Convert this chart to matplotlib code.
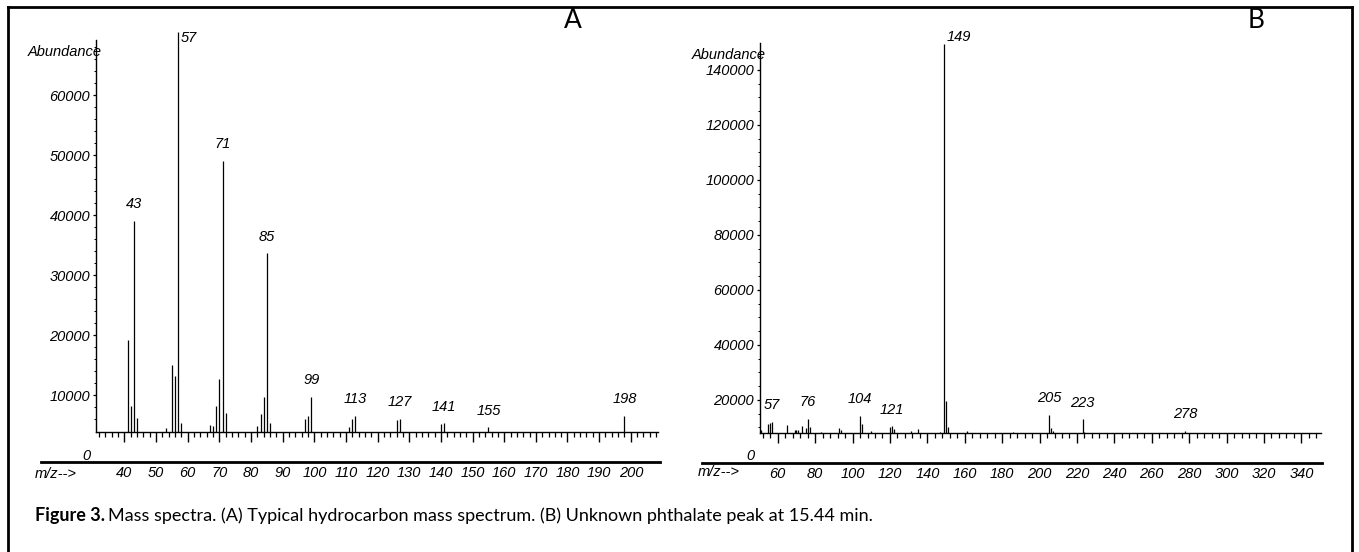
import matplotlib
matplotlib.use("Agg")
import matplotlib.pyplot as plt
from matplotlib.lines import Line2D
from matplotlib.ticker import FixedLocator

# ---- data ----
# (A) hydrocarbon spectrum: m/z and abundance of each line
a_mz = [41, 42, 43, 44, 53, 55, 56, 57, 58, 67, 68, 69, 70, 71, 72,
        82, 83, 84, 85, 86, 97, 98, 99, 111, 112, 113, 126, 127,
        140, 141, 155, 198]
a_abund = [19200, 8200, 39000, 6200, 4500, 15000, 13200, 70500, 5400,
           5000, 4800, 8200, 12700, 49000, 7000, 4800, 6800, 9700, 33600,
           5300, 6000, 6500, 9700, 4600, 6000, 6500, 5800, 6000, 5100,
           5300, 4600, 6500]
a_labels = [43, 57, 71, 85, 99, 113, 127, 141, 155, 198]
a_yticks = [0, 10000, 20000, 30000, 40000, 50000, 60000]
a_xticks = list(range(40, 201, 10))

# (B) unknown phthalate peak
b_mz = [51, 55, 56, 57, 65, 69, 70, 71, 73, 75, 76, 77, 83, 93, 94,
        104, 105, 110, 120, 121, 122, 131, 135, 147, 149, 150, 151,
        161, 186, 205, 206, 207, 223, 224, 278]
b_abund = [9000, 11300, 11700, 12100, 10900, 9100, 9100, 9100, 10500,
           9700, 13100, 10000, 8500, 9700, 9100, 14300, 11300, 8800,
           10000, 10400, 9600, 8600, 9300, 8500, 149500, 19700, 10300,
           8700, 8500, 14500, 9700, 8700, 13000, 8500, 8800]
b_labels = [57, 76, 104, 121, 149, 205, 223, 278]
b_yticks = [0, 20000, 40000, 60000, 80000, 100000, 120000, 140000]
b_xticks = list(range(60, 341, 20))

caption_bold = "Figure 3."
caption_rest = ("Mass spectra. (A) Typical hydrocarbon mass spectrum. "
                "(B) Unknown phthalate peak at 15.44 min.")

plt.rcParams['font.family'] = ['Liberation Sans', 'DejaVu Sans']
plt.rcParams['font.style'] = 'italic'
plt.rcParams['font.size'] = 10.5

W, H = 1359, 552
fig = plt.figure(figsize=(W / 100, H / 100), dpi=100)


def fx(x):
    return x / W


def fy(y):
    return 1 - y / H


def hline(x0, x1, y, lw):
    fig.add_artist(Line2D([fx(x0), fx(x1)], [fy(y), fy(y)], color="black",
                          lw=lw, transform=fig.transFigure))


def spectrum(box, xlim, ytop, base, spine_top, mz, abund, labels,
             xticks, xminor, yticks, yminor, top_off):
    left, right, top, bottom = box
    ax = fig.add_axes([fx(left), fy(bottom), fx(right) - fx(left),
                       fy(top) - fy(bottom)])
    ax.set_xlim(*xlim)
    ax.set_ylim(0, ytop)
    ax.patch.set_visible(False)
    for s in ("top", "right"):
        ax.spines[s].set_visible(False)
    ax.spines["left"].set_bounds(base, spine_top)
    ax.spines["bottom"].set_position(("data", base))
    for s in ("left", "bottom"):
        ax.spines[s].set_linewidth(1.0)

    ax.vlines(mz, base, abund, color="black", lw=0.9)

    big = max(abund)
    for m in labels:
        h = abund[mz.index(m)]
        if h == big:
            ax.annotate(str(m), (m, h), xytext=top_off, textcoords="offset points",
                        ha="left", va="center", annotation_clip=False)
        else:
            ax.annotate(str(m), (m, h), xytext=(0, 12), textcoords="offset points",
                        ha="center", va="center")

    ax.xaxis.set_major_locator(FixedLocator(xticks))
    ax.xaxis.set_minor_locator(FixedLocator(xminor))
    ax.set_xticklabels([str(t) for t in xticks])
    ax.yaxis.set_major_locator(FixedLocator(yticks))
    ax.yaxis.set_minor_locator(FixedLocator(yminor))
    ax.set_yticklabels([str(t) for t in yticks])
    ax.tick_params(axis="x", which="major", direction="out", length=7.2,
                   width=1.0, pad=17.5)
    ax.tick_params(axis="x", which="minor", direction="out", length=3.6, width=0.9)
    ax.tick_params(axis="y", which="major", direction="out", length=2.2,
                   width=0.9, pad=2)
    ax.tick_params(axis="y", which="minor", direction="out", length=1.4, width=0.7)
    ax.yaxis.get_major_ticks()[0].tick1line.set_visible(False)

    ax.annotate("Abundance", (xlim[0], spine_top - (spine_top - base) * 0.03),
                xytext=(4, 0), textcoords="offset points", ha="right",
                va="center", annotation_clip=False)
    return ax


# panel A: 60 px per 10000, 3.165 px per m/z unit
axA = spectrum((96, 658, 28, 455), (31, 208.6), 71170, 3900, 69200,
               a_mz, a_abund, a_labels, a_xticks, list(range(32, 209, 2)),
               a_yticks, list(range(6000, 69001, 2000)), (2, -4))
# panel B: 2.75 px per 1000, 1.87 px per m/z unit
axB = spectrum((760, 1321, 28, 455), (50.5, 350.5), 155270, 8100, 149800,
               b_mz, b_abund, b_labels, b_xticks, list(range(52, 350, 4)),
               b_yticks, list(range(10000, 150000, 5000)), (2, 5))

# rule between the baseline and the m/z tick labels
hline(41, 660, 462, 2.0)
hline(702, 1322, 463, 2.0)
fig.text(fx(35), fy(474), "m/z-->", ha="left", va="center")
fig.text(fx(698), fy(472), "m/z-->", ha="left", va="center")

# panel letters
fig.text(fx(573), fy(20), "A", ha="center", va="center", fontsize=19,
         style="normal", family=["Lato", "DejaVu Sans"])
fig.text(fx(1256), fy(20), "B", ha="center", va="center", fontsize=19,
         style="normal", family=["Lato", "DejaVu Sans"])

# caption
t1 = fig.text(fx(35), fy(516), caption_bold, ha="left", va="center",
              fontsize=13, style="normal", weight="bold",
              family=["Lato", "DejaVu Sans"])
axA.annotate(caption_rest, xy=(1, 0), xycoords=t1, xytext=(2.5, 0),
             textcoords="offset points", ha="left", va="bottom", fontsize=13,
             style="normal", family=["Lato", "DejaVu Sans"],
             annotation_clip=False)

# outer frame
for xs, ys in (([8, 1352], [7, 7]), ([8, 8], [7, 552]), ([1352, 1352], [7, 552])):
    fig.add_artist(Line2D([fx(v) for v in xs], [fy(v) for v in ys],
                          color="black", lw=2.0, transform=fig.transFigure))

fig.savefig("out.png", dpi=100)
